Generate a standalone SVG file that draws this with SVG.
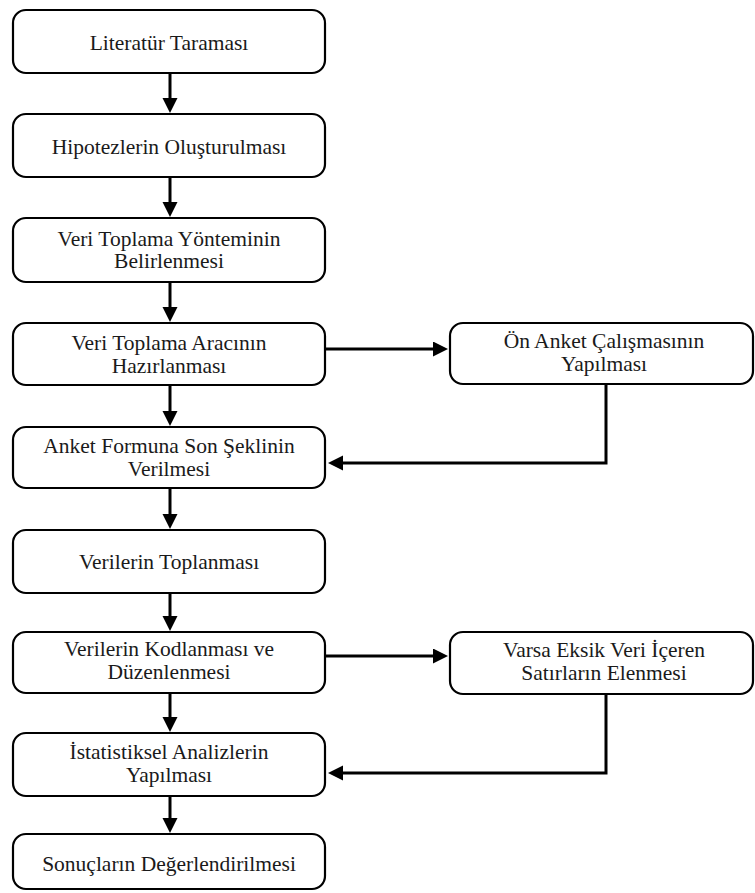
<svg xmlns="http://www.w3.org/2000/svg" width="755" height="893" viewBox="0 0 755 893">
<style>
.box{fill:#fff;stroke:#000;stroke-width:2.2}
.c{fill:none;stroke:#000;stroke-width:3}
text{font-family:"Liberation Serif","Times New Roman",Tinos,"DejaVu Serif","Noto Serif",serif;font-size:21.5px;fill:#1a1a1a;text-anchor:middle}
</style>
<defs>
<marker id="ah" markerUnits="userSpaceOnUse" markerWidth="16" markerHeight="16" refX="5" refY="7.5" orient="auto">
<path d="M0,0 L15,7.5 L0,15 z" fill="#000"/>
</marker>
</defs>
<rect width="755" height="893" fill="#fff"/>
<g id="connectors">
<line class="c" x1="170" y1="73" x2="170" y2="103" marker-end="url(#ah)"/>
<line class="c" x1="170" y1="177" x2="170" y2="207" marker-end="url(#ah)"/>
<line class="c" x1="170" y1="282" x2="170" y2="312" marker-end="url(#ah)"/>
<line class="c" x1="170" y1="385" x2="170" y2="416" marker-end="url(#ah)"/>
<line class="c" x1="170" y1="488" x2="170" y2="519" marker-end="url(#ah)"/>
<line class="c" x1="170" y1="593" x2="170" y2="621" marker-end="url(#ah)"/>
<line class="c" x1="170" y1="693" x2="170" y2="722" marker-end="url(#ah)"/>
<line class="c" x1="170" y1="796" x2="170" y2="823" marker-end="url(#ah)"/>
<line class="c" x1="325" y1="349" x2="438" y2="349" marker-end="url(#ah)"/>
<polyline class="c" points="606,384 606,463 338,463" marker-end="url(#ah)"/>
<line class="c" x1="325" y1="656" x2="438" y2="656" marker-end="url(#ah)"/>
<polyline class="c" points="606,694 606,773 338,773" marker-end="url(#ah)"/>
</g>
<g id="n1"><rect class="box" x="13" y="10" width="312" height="63" rx="13"/><text font-family="Liberation Serif, serif" x="169" y="50">Literatür Taraması</text></g>
<g id="n2"><rect class="box" x="13" y="114" width="312" height="63" rx="13"/><text x="169" y="154">Hipotezlerin Oluşturulması</text></g>
<g id="n3"><rect class="box" x="13" y="218" width="312" height="64" rx="13"/><text x="169" y="246">Veri Toplama Yönteminin</text><text x="169" y="268">Belirlenmesi</text></g>
<g id="n4"><rect class="box" x="13" y="323" width="312" height="62" rx="13"/><text x="169" y="350">Veri Toplama Aracının</text><text x="169" y="373">Hazırlanması</text></g>
<g id="n5"><rect class="box" x="13" y="427" width="312" height="61" rx="13"/><text x="169" y="453">Anket Formuna Son Şeklinin</text><text x="169" y="476">Verilmesi</text></g>
<g id="n6"><rect class="box" x="13" y="530" width="312" height="63" rx="13"/><text x="169" y="569">Verilerin Toplanması</text></g>
<g id="n7"><rect class="box" x="13" y="632" width="312" height="61" rx="13"/><text x="169" y="656">Verilerin Kodlanması ve</text><text x="169" y="679">Düzenlenmesi</text></g>
<g id="n8"><rect class="box" x="13" y="733" width="312" height="63" rx="13"/><text x="169" y="759">İstatistiksel Analizlerin</text><text x="169" y="782">Yapılması</text></g>
<g id="n9"><rect class="box" x="13" y="834" width="312" height="55" rx="13"/><text x="169" y="871">Sonuçların Değerlendirilmesi</text></g>
<g id="s1"><rect class="box" x="450" y="323" width="303" height="61" rx="13"/><text x="604" y="348">Ön Anket Çalışmasının</text><text x="604" y="371">Yapılması</text></g>
<g id="s2"><rect class="box" x="450" y="632" width="303" height="62" rx="13"/><text x="604" y="657">Varsa Eksik Veri İçeren</text><text x="604" y="680">Satırların Elenmesi</text></g>
</svg>
